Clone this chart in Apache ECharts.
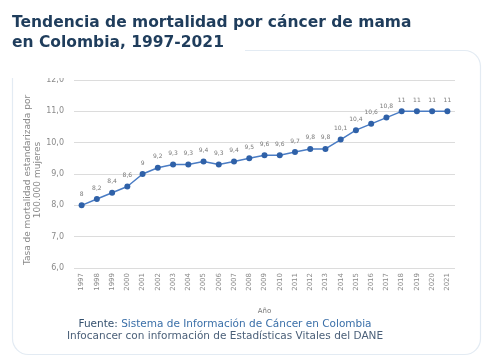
<!DOCTYPE html>
<html><head><meta charset="utf-8">
<script src="https://cdn.jsdelivr.net/npm/echarts@6/dist/echarts.min.js"></script>
<style>html,body{margin:0;padding:0;background:#fff}#c{width:492px;height:362px}</style>
</head><body><div id="c"></div>
<script>
const years = ['1997','1998','1999','2000','2001','2002','2003','2004','2005','2006','2007','2008','2009','2010','2011','2012','2013','2014','2015','2016','2017','2018','2019','2020','2021'];
const rates = [8, 8.2, 8.4, 8.6, 9, 9.2, 9.3, 9.3, 9.4, 9.3, 9.4, 9.5, 9.6, 9.6, 9.7, 9.8, 9.8, 10.1, 10.4, 10.6, 10.8, 11, 11, 11, 11];
const titleLines = ['Tendencia de mortalidad por cáncer de mama', 'en Colombia, 1997-2021'];
const yName = 'Tasa de mortalidad estandarizada por\n100.000 mujeres';
const xName = 'Año';
const sourceLine1a = 'Fuente: ';
const sourceLine1b = 'Sistema de Información de Cáncer en Colombia';
const sourceLine2 = 'Infocancer con información de Estadísticas Vitales del DANE';

const fmt = v => String(v).replace('.', ',');
const chart = echarts.init(document.getElementById('c'), null, {renderer: 'canvas'});
chart.setOption({
  animation: false,
  backgroundColor: '#fff',
  graphic: [
    {type: 'rect', z: 0, shape: {x: 12.5, y: 50.5, width: 468, height: 304, r: 16},
     style: {fill: '#fff', stroke: '#e3ebf3', lineWidth: 1.2}},
    {type: 'rect', z: 1, shape: {x: 0, y: 0, width: 245, height: 78}, style: {fill: '#fff'}},
    {type: 'text', z: 2, left: 12, top: 13, style: {text: titleLines.join('\n'), font: 'bold 15.5px "DejaVu Sans"', fill: '#1f3d5c', lineHeight: 20}},
    {type: 'text', z: 2, x: 33, y: 180, rotation: Math.PI / 2, style: {
      align: 'center', verticalAlign: 'middle', text: yName, font: '9px "DejaVu Sans"', fill: '#888', lineHeight: 10}},
    {type: 'text', z: 2, x: 225, y: 324, style: {
      align: 'center', verticalAlign: 'middle',
      rich: {a: {font: '10.5px "DejaVu Sans"', fill: '#34506e'}, b: {font: '10.5px "DejaVu Sans"', fill: '#3a6fa8'}},
      text: '{a|' + sourceLine1a + '}{b|' + sourceLine1b + '}'}},
    {type: 'text', z: 2, x: 225, y: 336, style: {align: 'center', verticalAlign: 'middle', text: sourceLine2, font: '10.5px "DejaVu Sans"', fill: '#4a5f78'}}
  ],
  grid: {left: 74, right: 37, top: 80, bottom: 94},
  xAxis: {
    type: 'category', data: years, boundaryGap: true,
    name: xName, nameLocation: 'middle', nameGap: 40,
    nameTextStyle: {fontSize: 7, color: '#777', fontFamily: 'DejaVu Sans'},
    axisLine: {show: false}, axisTick: {show: false},
    axisLabel: {rotate: 90, fontSize: 7, color: '#8a8a8a', interval: 0, margin: 5, fontFamily: 'DejaVu Sans'}
  },
  yAxis: {
    type: 'value', min: 6, max: 12, interval: 1,
    axisLabel: {formatter: v => v.toFixed(1).replace('.', ','), fontSize: 8, color: '#8a8a8a', margin: 10, fontFamily: 'DejaVu Sans'},
    splitLine: {lineStyle: {color: '#dcdcdc', width: 1}}
  },
  series: [{
    type: 'line', data: rates,
    symbol: 'circle', symbolSize: 6,
    lineStyle: {color: '#4a7cc4', width: 1.5},
    itemStyle: {color: '#2f61a8'},
    label: {show: true, position: 'top', distance: 5, fontSize: 6, color: '#7a7a7a', fontFamily: 'DejaVu Sans', formatter: p => fmt(p.value)}
  }]
});
</script></body></html>
